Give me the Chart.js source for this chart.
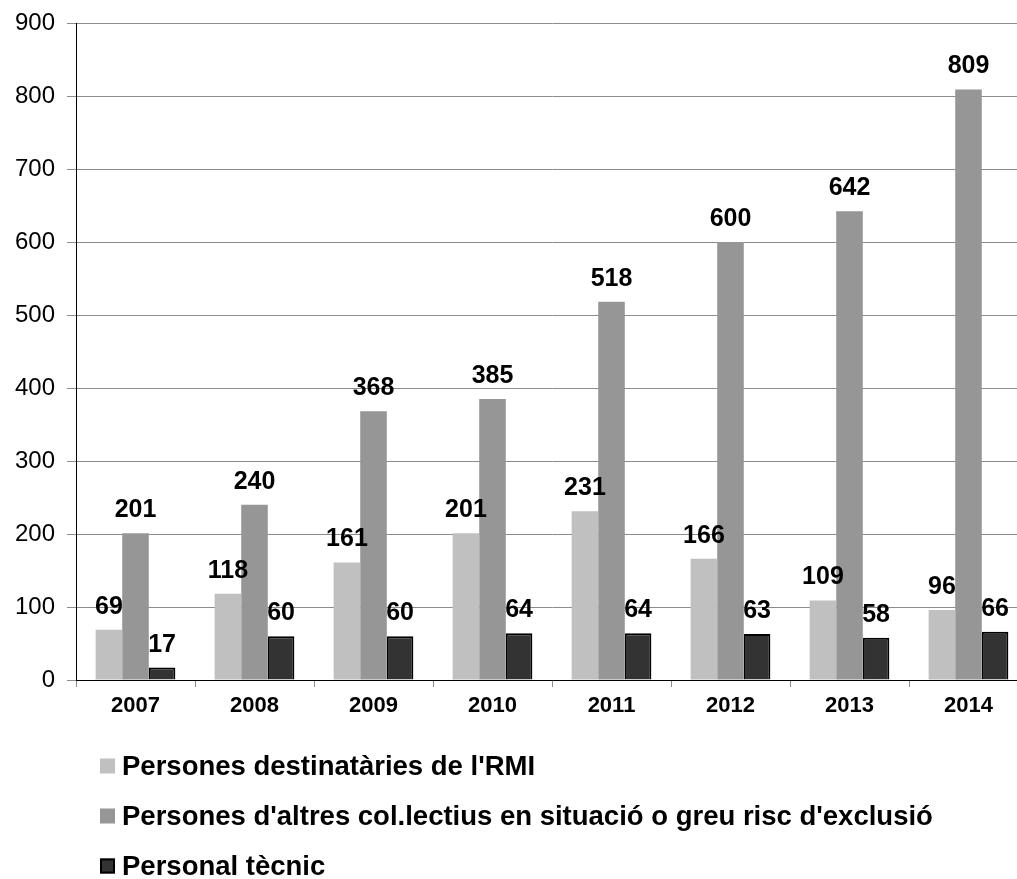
<!DOCTYPE html>
<html>
<head>
<meta charset="utf-8">
<script src="https://cdn.jsdelivr.net/npm/chart.js@4/dist/chart.umd.min.js"></script>
<style>
  html, body { margin: 0; padding: 0; background: #fff; overflow: hidden; }
  /* the reference is cropped on the right, so the canvas runs past the window */
  #wrap { width: 1040px; height: 879px; position: relative; }
</style>
</head>
<body>
<div id="wrap"><canvas id="chart"></canvas></div>
<script>
// data
const years = ['2007', '2008', '2009', '2010', '2011', '2012', '2013', '2014'];
const rmiValues = [69, 118, 161, 201, 231, 166, 109, 96];
const altresValues = [201, 240, 368, 385, 518, 600, 642, 809];
const tecnicValues = [17, 60, 60, 64, 64, 63, 58, 66];
const seriesNames = [
    "Persones destinatàries de l'RMI",
    "Persones d'altres col.lectius en situació o greu risc d'exclusió",
    "Personal tècnic"
];
const yMax = 900;
const yStep = 100;

const FONT = 'Arial, "Liberation Sans", sans-serif';

// value labels on top of every bar
const valueLabels = {
    id: 'valueLabels',
    afterDatasetsDraw(chart) {
        const ctx = chart.ctx;
        ctx.save();
        ctx.font = 'bold 25px ' + FONT;
        ctx.fillStyle = '#000';
        ctx.textAlign = 'center';
        ctx.textBaseline = 'alphabetic';
        chart.data.datasets.forEach((ds, i) => {
            chart.getDatasetMeta(i).data.forEach((bar, j) => {
                ctx.fillText(String(ds.data[j]), bar.x, bar.y - 16);
            });
        });
        ctx.restore();
    }
};

// stacked legend, one item per line, under the x axis
const stackedLegend = {
    id: 'stackedLegend',
    afterDraw(chart) {
        const ctx = chart.ctx;
        const left = 100;
        const firstY = 766;
        const rowGap = 50;
        const box = 15;
        ctx.save();
        ctx.font = 'bold 27.5px ' + FONT;
        ctx.textBaseline = 'middle';
        ctx.textAlign = 'left';
        chart.data.datasets.forEach((ds, i) => {
            const y = firstY + i * rowGap;
            ctx.fillStyle = ds.backgroundColor;
            ctx.fillRect(left, y - box / 2, box, box);
            if (ds.borderWidth) {
                ctx.strokeStyle = ds.borderColor;
                ctx.lineWidth = 2;
                ctx.strokeRect(left + 1, y - box / 2 + 1, box - 2, box - 2);
            }
            ctx.fillStyle = '#000';
            ctx.fillText(ds.label, left + box + 7, y + 1);
        });
        ctx.restore();
    }
};

new Chart(document.getElementById('chart'), {
    type: 'bar',
    data: {
        labels: years,
        datasets: [{
            label: seriesNames[0],
            data: rmiValues,
            backgroundColor: '#c0c0c0',
            borderWidth: 0
        }, {
            label: seriesNames[1],
            data: altresValues,
            backgroundColor: '#969696',
            borderWidth: 0
        }, {
            label: seriesNames[2],
            data: tecnicValues,
            backgroundColor: '#333333',
            borderColor: '#000000',
            borderWidth: 2
        }]
    },
    options: {
        responsive: true,
        maintainAspectRatio: false,
        animation: false,
        categoryPercentage: 0.67,
        barPercentage: 1.0,
        layout: {
            padding: { top: 23, right: 12, left: 0, bottom: 159 }
        },
        plugins: {
            legend: { display: false },
            tooltip: { enabled: false }
        },
        scales: {
            x: {
                grid: {
                    drawOnChartArea: false,
                    color: '#8c8c8c',
                    tickLength: 7
                },
                border: { color: '#000', width: 1 },
                ticks: {
                    color: '#000',
                    padding: 6,
                    font: { family: FONT, size: 22, weight: 'bold' }
                },
                afterFit(scale) { scale.height = 40; }
            },
            y: {
                min: 0,
                max: yMax,
                grid: {
                    color: '#8c8c8c',
                    tickLength: 9
                },
                border: { color: '#000', width: 1 },
                ticks: {
                    stepSize: yStep,
                    color: '#000',
                    padding: 12,
                    font: { family: FONT, size: 24 }
                },
                afterFit(scale) {
                    scale.width = 76;
                    // top label has room in the layout padding already
                    scale.paddingTop = 0;
                    scale.paddingBottom = 0;
                }
            }
        }
    },
    plugins: [valueLabels, stackedLegend]
});
</script>
</body>
</html>
